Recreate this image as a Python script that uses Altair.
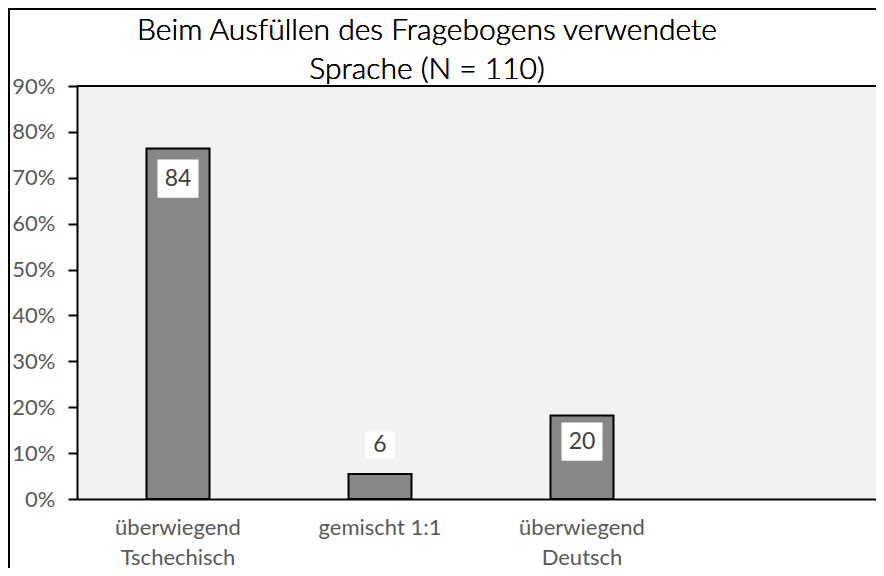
import altair as alt
import pandas as pd

categories = ["überwiegend\nTschechisch", "gemischt 1:1", "überwiegend\nDeutsch"]
counts = [84, 6, 20]
total = 110
y_ticks = [0, 0.1, 0.2, 0.3, 0.4, 0.5, 0.6, 0.7, 0.8, 0.9]
title_lines = ["Beim Ausfüllen des Fragebogens verwendete", "Sprache (N = 110)"]

df = pd.DataFrame({"cat": categories, "count": counts})
df["pct"] = df["count"] / total

FONT = "Lato"
domain = categories + [""]
xs = alt.X("cat:N", scale=alt.Scale(domain=domain, range=[0, 808], paddingInner=0, paddingOuter=0),
           sort=domain,
           axis=alt.Axis(title=None, labelAngle=0, ticks=False, labelExpr="split(datum.label, '\\n')",
                         labelFont=FONT, labelFontSize=22, labelColor="#595959", labelPadding=18,
                         labelLineHeight=30, domainColor="#000000", domainWidth=2, labelBaseline="top"))
ys = alt.Y("pct:Q", scale=alt.Scale(domain=[0, 0.9], nice=False),
           axis=alt.Axis(title=None, values=y_ticks, format=".0%", grid=False,
                         labelFont=FONT, labelFontSize=22, labelColor="#595959", labelPadding=13,
                         tickSize=9, tickColor="#000000", tickWidth=2,
                         domainColor="#000000", domainWidth=2))

base = alt.Chart(df)
bars = base.mark_bar(size=63, color="#878787", stroke="#000000", strokeWidth=2).encode(x=xs, y=ys)

layers = [bars]
offsets = {0: (30, 41), 1: (-29, 29), 2: (26, 41)}
for i, (off, w) in offsets.items():
    sub = base.transform_filter(alt.datum.cat == categories[i])
    box = sub.mark_point(shape="M-1,-0.93L1,-0.93L1,0.93L-1,0.93Z", filled=True, color="white",
                         opacity=1, strokeWidth=0, size=w ** 2, yOffset=off).encode(x=xs, y=ys)
    txt = sub.mark_text(font=FONT, fontSize=23, fontWeight="normal", color="#404040",
                        baseline="middle", align="center", yOffset=off).encode(x=xs, y=ys, text="count:Q")
    layers += [box, txt]

title_marks = []
for line, yy in zip(title_lines, [-46, -7]):
    title_marks.append(
        alt.Chart(df).mark_text(font=FONT, fontSize=30, fontWeight=300, color="#000000",
                                align="center", baseline="alphabetic", text=line)
        .encode(x=alt.value(350), y=alt.value(yy))
    )

top_line = alt.Chart(df).mark_rule(color="#000000", strokeWidth=2).encode(
    x=alt.value(0), x2=alt.value(808), y=alt.value(0))
left_border = alt.Chart(df).mark_rule(color="#000000", strokeWidth=2).encode(
    x=alt.value(-68), y=alt.value(-78), y2=alt.value(500))
top_border = alt.Chart(df).mark_rule(color="#000000", strokeWidth=2).encode(
    x=alt.value(-69), x2=alt.value(800), y=alt.value(-77))

chart = alt.layer(*layers, *title_marks, top_line, left_border, top_border).properties(
    width=799, height=413,
    autosize=alt.AutoSizeParams(type="none"),
    padding={"left": 69, "top": 78, "right": 0, "bottom": 69},
).configure_view(stroke=None, fill="#f2f2f2")

chart.save("out.html", embed_options={"renderer": "svg", "actions": False})
